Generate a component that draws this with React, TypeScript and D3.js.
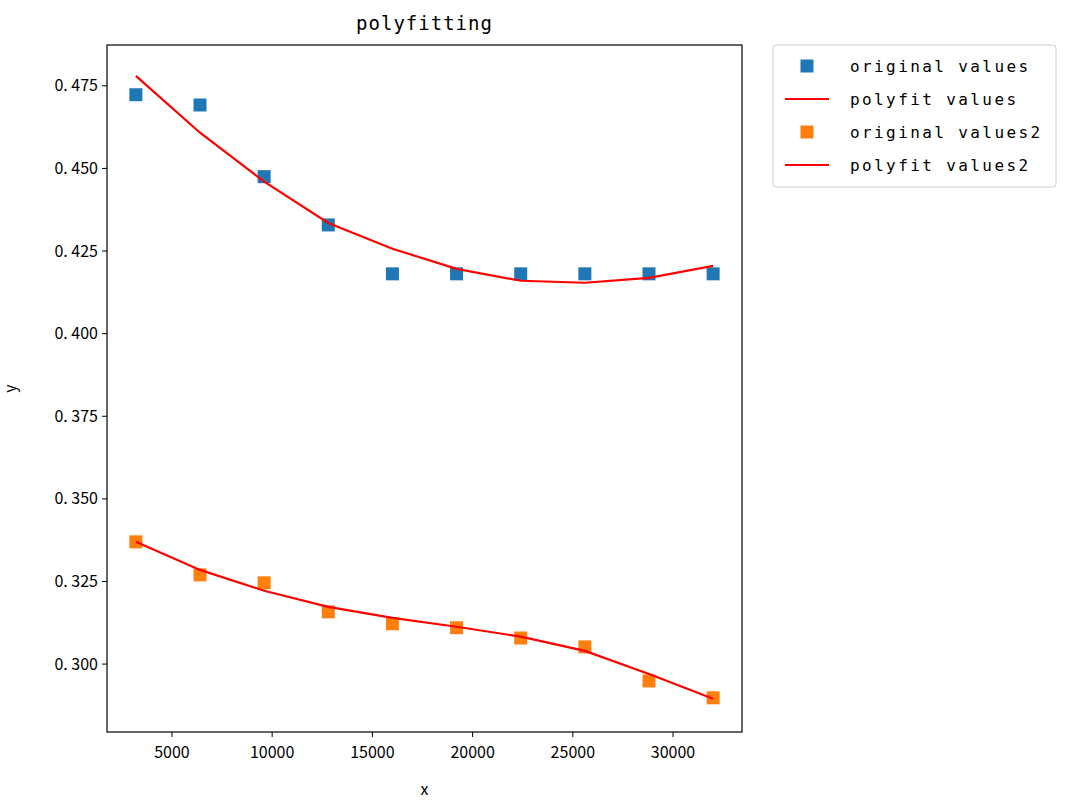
import * as d3 from "d3";

const xs = [3200, 6400, 9600, 12800, 16000, 19200, 22400, 25600, 28800, 32000];
const orig1 = [0.4723, 0.4692, 0.4475, 0.4329, 0.4181, 0.4181, 0.4181, 0.4181, 0.4181, 0.4181];
const fit1 = [0.478, 0.4608, 0.446, 0.4335, 0.4257, 0.4196, 0.416, 0.4154, 0.4169, 0.4205];
const orig2 = [0.337, 0.327, 0.3246, 0.3158, 0.3122, 0.311, 0.3079, 0.3052, 0.2949, 0.2898];
const fit2 = [0.337, 0.3285, 0.3222, 0.3173, 0.314, 0.3113, 0.3083, 0.304, 0.297, 0.2895];
const xTicks = [5000, 10000, 15000, 20000, 25000, 30000];
const yTicks = [0.3, 0.325, 0.35, 0.375, 0.4, 0.425, 0.45, 0.475];
const legendItems = [
  { label: "original values", kind: "marker", color: "#1f77b4" },
  { label: "polyfit values", kind: "line", color: "red" },
  { label: "original values2", kind: "marker", color: "#ff7f0e" },
  { label: "polyfit values2", kind: "line", color: "red" },
];

const FONT = "'Noto Sans CJK SC', 'DejaVu Sans', sans-serif";
const MONO = "'DejaVu Sans Mono', 'Liberation Mono', monospace";

export default function App() {
  const L = 107, R = 742, T = 45, B = 732;
  const x = d3.scaleLinear().domain([1760, 33440]).range([L, R]);
  const y = d3.scaleLinear().domain([0.27945, 0.48735]).range([B, T]);
  const line = d3.line<number>().x((_, i) => x(xs[i])).y(d => y(d));
  const sq = 13;
  return (
    <svg width={1070} height={810} style={{ position: "absolute", left: 0, top: 0 }} fontFamily={FONT}>
      <rect width={1070} height={810} fill="white" />
      <text x={(L + R) / 2} y={30} textAnchor="middle" fontSize={19} fontFamily={MONO} letterSpacing={1}>polyfitting</text>
      {[orig1, orig2].map((s, k) => s.map((v, i) => (
        <rect key={`${k}-${i}`} x={x(xs[i]) - sq / 2} y={y(v) - sq / 2} width={sq} height={sq}
          fill={k === 0 ? "#1f77b4" : "#ff7f0e"} />
      )))}
      {[fit1, fit2].map((s, k) => (
        <path key={k} d={line(s) ?? ""} fill="none" stroke="red" strokeWidth={2.2} />
      ))}
      <rect x={L} y={T} width={R - L} height={B - T} fill="none" stroke="black" strokeWidth={1.2} />
      {xTicks.map(t => (
        <g key={t} transform={`translate(${x(t)},${B})`}>
          <line y2={5} stroke="black" />
          <text y={26} textAnchor="middle" fontSize={16}>{t}</text>
        </g>
      ))}
      {yTicks.map(t => (
        <g key={t} transform={`translate(${L},${y(t)})`}>
          <line x2={-5} stroke="black" />
          <text x={-9} dy="0.35em" textAnchor="end" fontSize={16}>{d3.format(".3f")(t).replace("0.", "0. ")}</text>
        </g>
      ))}
      <text x={(L + R) / 2} y={795} textAnchor="middle" fontSize={16}>x</text>
      <text transform={`translate(16,${(T + B) / 2}) rotate(-90)`} textAnchor="middle" fontSize={16}>y</text>
      <rect x={773} y={45} width={283} height={142} rx={3} fill="white" stroke="#cccccc" />
      {legendItems.map((d, i) => {
        const cy = 66 + i * 33;
        return (
          <g key={d.label}>
            {d.kind === "marker"
              ? <rect x={807 - sq / 2} y={cy - sq / 2} width={sq} height={sq} fill={d.color} />
              : <line x1={785} x2={829} y1={cy} y2={cy} stroke={d.color} strokeWidth={2.2} />}
            <text x={850} y={cy} dy="0.35em" fontSize={16} fontFamily={MONO} letterSpacing={2.4}>{d.label}</text>
          </g>
        );
      })}
    </svg>
  );
}
